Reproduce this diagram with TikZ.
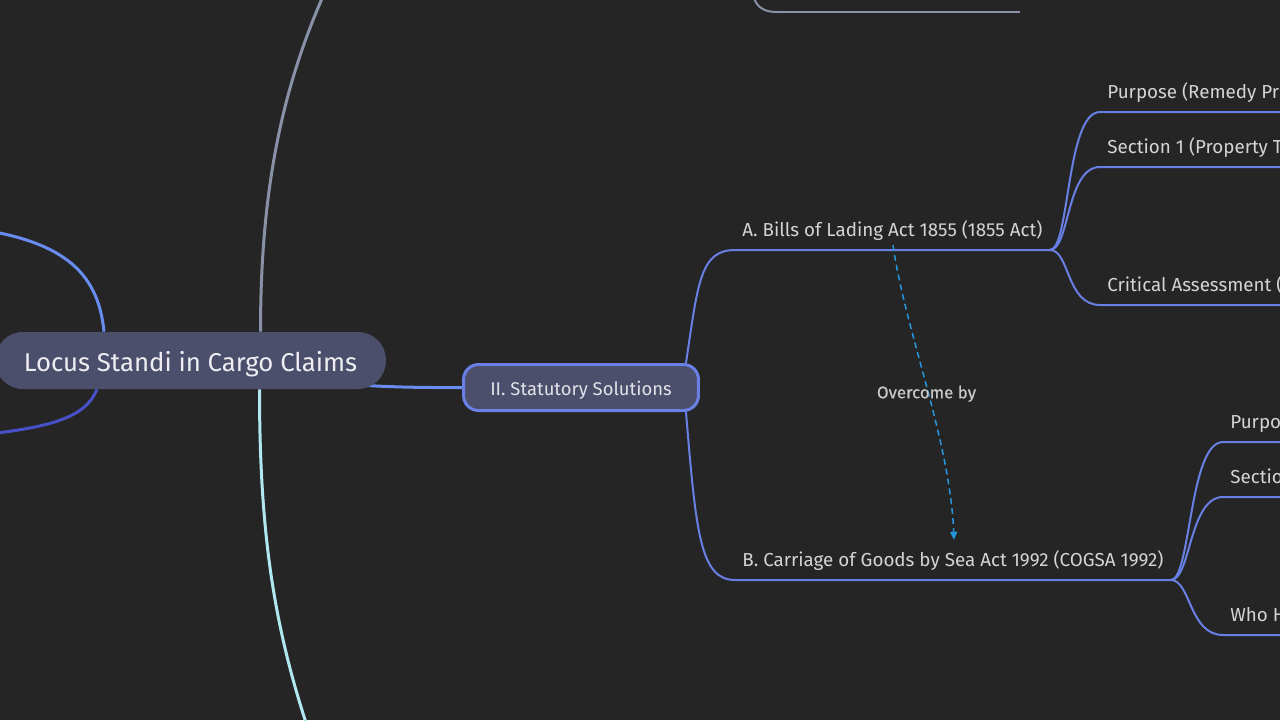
\documentclass[tikz,border=0pt]{standalone}
\usepackage{fontspec}
\setmainfont{Fira Sans}
\usepackage{tikz}
\usetikzlibrary{arrows.meta}
\usetikzlibrary{calc}

\definecolor{canvas}{RGB}{37,37,37}
\definecolor{nodefill}{RGB}{76,79,107}
\definecolor{roottext}{RGB}{238,238,242}
\definecolor{sectionline}{RGB}{106,128,230}
\definecolor{sectiontext}{RGB}{226,226,232}
\definecolor{topictext}{RGB}{212,212,212}
\definecolor{branchline}{RGB}{104,128,228}
\definecolor{mainblue}{RGB}{104,140,240}
\definecolor{deepblue}{RGB}{72,80,200}
\definecolor{trunkgray}{RGB}{136,146,166}
\definecolor{trunkcyan}{RGB}{176,232,240}
\definecolor{linkblue}{RGB}{40,150,220}
\definecolor{labeltext}{RGB}{200,200,200}

\pgfdeclarelayer{bglayer}
\pgfdeclarelayer{edgelayer}
\pgfsetlayers{bglayer,edgelayer,main}

\begin{document}
\begin{tikzpicture}[x=0.02cm, y=-0.02cm]
    \tikzstyle{root} = [rectangle, rounded corners=0.56cm, fill=nodefill, text=roottext, font=\fontsize{14.65}{18}\selectfont, minimum width=7.82cm, minimum height=1.14cm, inner sep=0pt, text height=0.55cm, text depth=0.1cm];
    \tikzstyle{section} = [rectangle, rounded corners=0.3cm, draw=sectionline, line width=0.06cm, fill=nodefill, text=sectiontext, font=\fontsize{10.5}{12}\selectfont, minimum width=4.7cm, minimum height=0.92cm, inner sep=0pt, text height=0.38cm, text depth=0.07cm];
    \tikzstyle{topic} = [anchor=south west, text=topictext, font=\fontsize{10.7}{12}\selectfont, inner xsep=0.14cm, inner ysep=0.17cm, text height=0.3cm, text depth=0.09cm];
    \tikzstyle{branch} = [draw=branchline, line width=0.04cm];
    \tikzstyle{main-link} = [line width=0.06cm];
    \tikzstyle{link} = [draw=linkblue, line width=0.03cm, dash pattern=on 0.12cm off 0.08cm, -{Triangle[length=0.16cm, width=0.14cm]}];
    \tikzstyle{link-label} = [text=labeltext, font=\fontsize{9.6}{11}\selectfont\addfontfeatures{FakeBold=0.6}];

    \useasboundingbox (0,0) rectangle (1280,720);
    \begin{pgfonlayer}{bglayer}
        \fill [canvas] (0,0) rectangle (1280,720);
    \end{pgfonlayer}

    \coordinate (page-right) at (1300,0);
    \coordinate (trunk-top) at (340,-40);
    \coordinate (trunk-bottom) at (330,790);
    \coordinate (left-top) at (-30,228);
    \coordinate (left-bottom) at (-30,436);
    \coordinate (top-in) at (748,-40);
    \coordinate (top-turn) at (778,12);
    \coordinate (top-end) at (1020,12);

    \node[root] (root) at (190.5,360.5) {Locus Standi in Cargo Claims};
    \node[section] (stat) at (581,387.5) {II. Statutory Solutions};

    \node[topic] (act-a) at (735,250) {A. Bills of Lading Act 1855 (1855 Act)};
    \node[topic] (act-b) at (735,580) {B. Carriage of Goods by Sea Act 1992 (COGSA 1992)};

    \node[topic] (a-purpose)  at (1100,112) {Purpose (Remedy Pr};
    \node[topic] (a-section)  at (1100,167) {Section 1 (Property T};
    \node[topic] (a-critical) at (1100,305) {Critical Assessment (};

    \node[topic] (b-purpose) at (1223,442) {Purpo};
    \node[topic] (b-section) at (1223,497) {Sectio};
    \node[topic] (b-who)     at (1223,635) {Who H};

    \begin{pgfonlayer}{edgelayer}
        \draw [main-link, trunkgray] ($(root.north)+(70,0)$) .. controls +(0,-152) and +(-55,110) .. (trunk-top);
        \draw [main-link, trunkcyan] ($(root.south)+(69,0)$) .. controls +(0,171) and +(-50,-130) .. (trunk-bottom);
        \draw [main-link, mainblue] ($(root.north)+(-86.5,0)$) .. controls +(-6,-62) and +(90,12) .. (left-top);
        \draw [main-link, deepblue] ($(root.south)+(-93.5,0)$) .. controls +(-12,29) and +(80,-8) .. (left-bottom);
        \draw [main-link, mainblue] (root.center) .. controls (300,385) and (380,388) .. (stat.west);
        \draw [branch, trunkgray] (top-in) .. controls +(2,45) and +(-20,0) .. (top-turn) -- (top-end);

        \draw [branch] ($(stat.north east)+(-14,0)$) .. controls +(12,-80) and +(-35,0) .. (act-a.south west) -- (act-a.south east);
        \draw [branch] ($(stat.south east)+(-14,0)$) .. controls +(10,120) and +(-35,0) .. (act-b.south west) -- (act-b.south east);

        \foreach \child in {a-purpose, a-section, a-critical}
            \draw [branch] (act-a.south east) .. controls +(20,0) and +(-34,0) .. (\child.south west) -- (\child.south west -| page-right);
        \foreach \child in {b-purpose, b-section, b-who}
            \draw [branch] (act-b.south east) .. controls +(20,0) and +(-34,0) .. (\child.south west) -- (\child.south west -| page-right);
    \end{pgfonlayer}

    \draw [link] ($(act-a.south west)+(158,-5)$) .. controls +(12,85) and +(-4,-100) .. ($(act-b.north west)+(219,-3)$)
        node [link-label, pos=0.5, yshift=-0.14cm] {Overcome by};
\end{tikzpicture}
\end{document}
